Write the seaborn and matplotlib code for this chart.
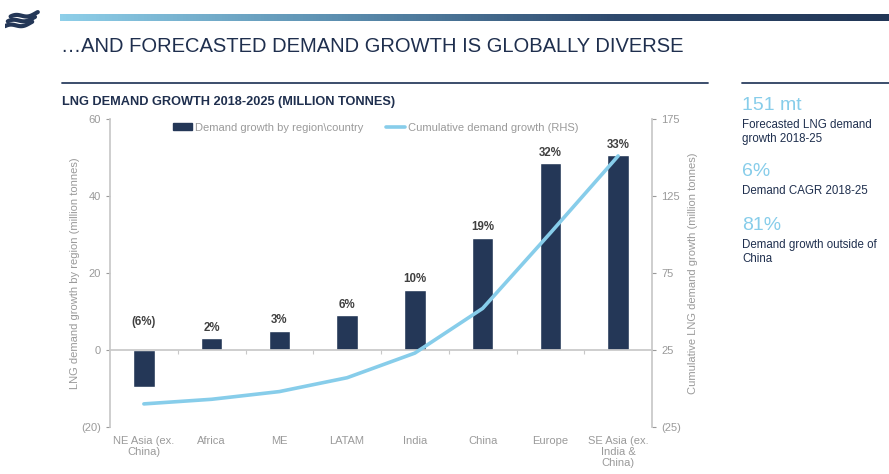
import numpy as np
import matplotlib
matplotlib.use("Agg")
import matplotlib.pyplot as plt
from matplotlib.patches import Patch
from matplotlib.lines import Line2D
import seaborn as sns

# data
categories = ["NE Asia (ex.\nChina)", "Africa", "ME", "LATAM", "India", "China",
              "Europe", "SE Asia (ex.\nIndia &\nChina)"]
growth = [-9.7, 3.0, 5.0, 9.0, 15.6, 29.2, 48.5, 50.6]
cumulative = [-10, -7, -2, 7, 23, 52, 101, 151]
share_labels = ["(6%)", "2%", "3%", "6%", "10%", "19%", "32%", "33%"]
left_ticks = [-20, 0, 20, 40, 60]
right_ticks = [-25, 25, 75, 125, 175]

NAVY = "#243757"
LIGHT = "#87cdea"
GREY = "#9a9a9a"
DARK = "#1f2f4e"

sns.set_theme(style="white")
plt.rcParams["font.family"] = ["Liberation Sans", "DejaVu Sans"]

fig = plt.figure(figsize=(8.89, 4.74), dpi=100)
W, H = 889, 474


def fx(px):
    return px / W


def fy(py):
    return 1 - py / H


# header gradient bar
gax = fig.add_axes([fx(60), fy(21.5), fx(889 - 60), (21.5 - 14.5) / H])
grad = np.linspace(0, 1, 256).reshape(1, -1)
cmap = matplotlib.colors.LinearSegmentedColormap.from_list(
    "hdr", ["#8ecfe9", "#5c8fb0", "#2f4a6e", "#213656"])
gax.imshow(grad, aspect="auto", cmap=cmap)
gax.axis("off")

# logo: three wavy stripes
lax = fig.add_axes([fx(5), fy(32), fx(40), 22 / H])
t = np.linspace(0, 1, 40)
for k in range(3):
    xs = 0.14 + 0.68 * t - 0.07 * k
    ys = 0.66 + 0.2 * t + 0.08 * np.sin(t * np.pi * 2 + 0.6) - 0.22 * k
    lax.plot(xs, ys, color=NAVY, lw=3.0, solid_capstyle="round")
lax.set_xlim(0, 1)
lax.set_ylim(0, 1)
lax.axis("off")

# titles and rules
fig.text(fx(61), fy(47), "\u2026AND FORECASTED DEMAND GROWTH IS GLOBALLY DIVERSE",
         fontsize=14.5, color=DARK, va="center")
fig.add_artist(Line2D([fx(62), fx(708)], [fy(83), fy(83)], color="#2c3f60", lw=1.3))
fig.add_artist(Line2D([fx(742), fx(889)], [fy(83), fy(83)], color="#2c3f60", lw=1.3))
fig.text(fx(62), fy(102), "LNG DEMAND GROWTH 2018-2025 (MILLION TONNES)",
         fontsize=9.2, color=DARK, weight="bold", va="center")

# right-hand key figures
fig.text(fx(742), fy(105), "151 mt", fontsize=14, color=LIGHT, va="center")
fig.text(fx(742), fy(132), "Forecasted LNG demand\ngrowth 2018-25", fontsize=8.3,
         color=DARK, va="center", linespacing=1.15)
fig.text(fx(742), fy(172), "6%", fontsize=14, color=LIGHT, va="center")
fig.text(fx(742), fy(191), "Demand CAGR 2018-25", fontsize=8.3, color=DARK, va="center")
fig.text(fx(742), fy(225), "81%", fontsize=14, color=LIGHT, va="center")
fig.text(fx(742), fy(252), "Demand growth outside of\nChina", fontsize=8.3,
         color=DARK, va="center", linespacing=1.15)

# main chart
ax = fig.add_axes([fx(110), fy(427), fx(652 - 110), (427 - 119) / H])
ax2 = ax.twinx()

sns.barplot(x=categories, y=growth, color=NAVY, width=0.32, ax=ax, saturation=1)
sns.lineplot(x=np.arange(len(categories)), y=cumulative, ax=ax2, color=LIGHT, lw=2.6)

ax.set_xlim(-0.5, len(categories) - 0.5)
ax.set_ylim(-20, 60)
ax2.set_ylim(-25, 175)
ax.set_yticks(left_ticks)
ax.set_yticklabels([f"({-v})" if v < 0 else str(v) for v in left_ticks])
ax2.set_yticks(right_ticks)
ax2.set_yticklabels([f"({-v})" if v < 0 else str(v) for v in right_ticks])

for a in (ax, ax2):
    for s in a.spines.values():
        s.set_visible(False)
    a.tick_params(axis="y", colors=GREY, labelsize=8, length=3, width=0.8, direction="out")
    a.grid(False)
ax.spines["left"].set_visible(True)
ax.spines["left"].set_color("#c8c8c8")
ax2.spines["right"].set_visible(True)
ax2.spines["right"].set_color("#c8c8c8")

# zero line with category boundary ticks, labels pushed to the bottom
ax.spines["bottom"].set_visible(True)
ax.spines["bottom"].set_position(("data", 0))
ax.spines["bottom"].set_color("#c8c8c8")
ax.set_xticks(np.arange(len(categories)))
ax.set_xticklabels(categories)
ax.set_xticks(np.arange(len(categories) - 1) + 0.5, minor=True)
ax.tick_params(axis="x", which="major", length=0, pad=62, colors=GREY, labelsize=8)
ax.tick_params(axis="x", which="minor", length=3, width=0.8, color="#c8c8c8",
               direction="out", bottom=True)
for lbl in ax.get_xticklabels():
    lbl.set_va("top")
    lbl.set_linespacing(1.1)

ax.set_ylabel("LNG demand growth by region (million tonnes)", color=GREY, fontsize=8, labelpad=1)
ax2.set_ylabel("Cumulative LNG demand growth (million tonnes)", color=GREY, fontsize=8, labelpad=5)

for i, (v, s) in enumerate(zip(growth, share_labels)):
    y = v + 1.2 if v > 0 else 5.8
    ax.text(i, y, s, ha="center", va="bottom", fontsize=8.3, weight="bold", color="#404040")

handles = [Patch(facecolor=NAVY, edgecolor=NAVY),
           Line2D([0], [0], color=LIGHT, lw=2.6)]
ax.legend(handles, ["Demand growth by region\\country", "Cumulative demand growth (RHS)"],
          loc="center", bbox_to_anchor=(0.49, 0.972), ncol=2, frameon=False,
          fontsize=8, labelcolor=GREY, handlelength=1.7, handleheight=0.6,
          columnspacing=2.0, handletextpad=0.3)

fig.savefig("out.png", dpi=100, facecolor="white")
